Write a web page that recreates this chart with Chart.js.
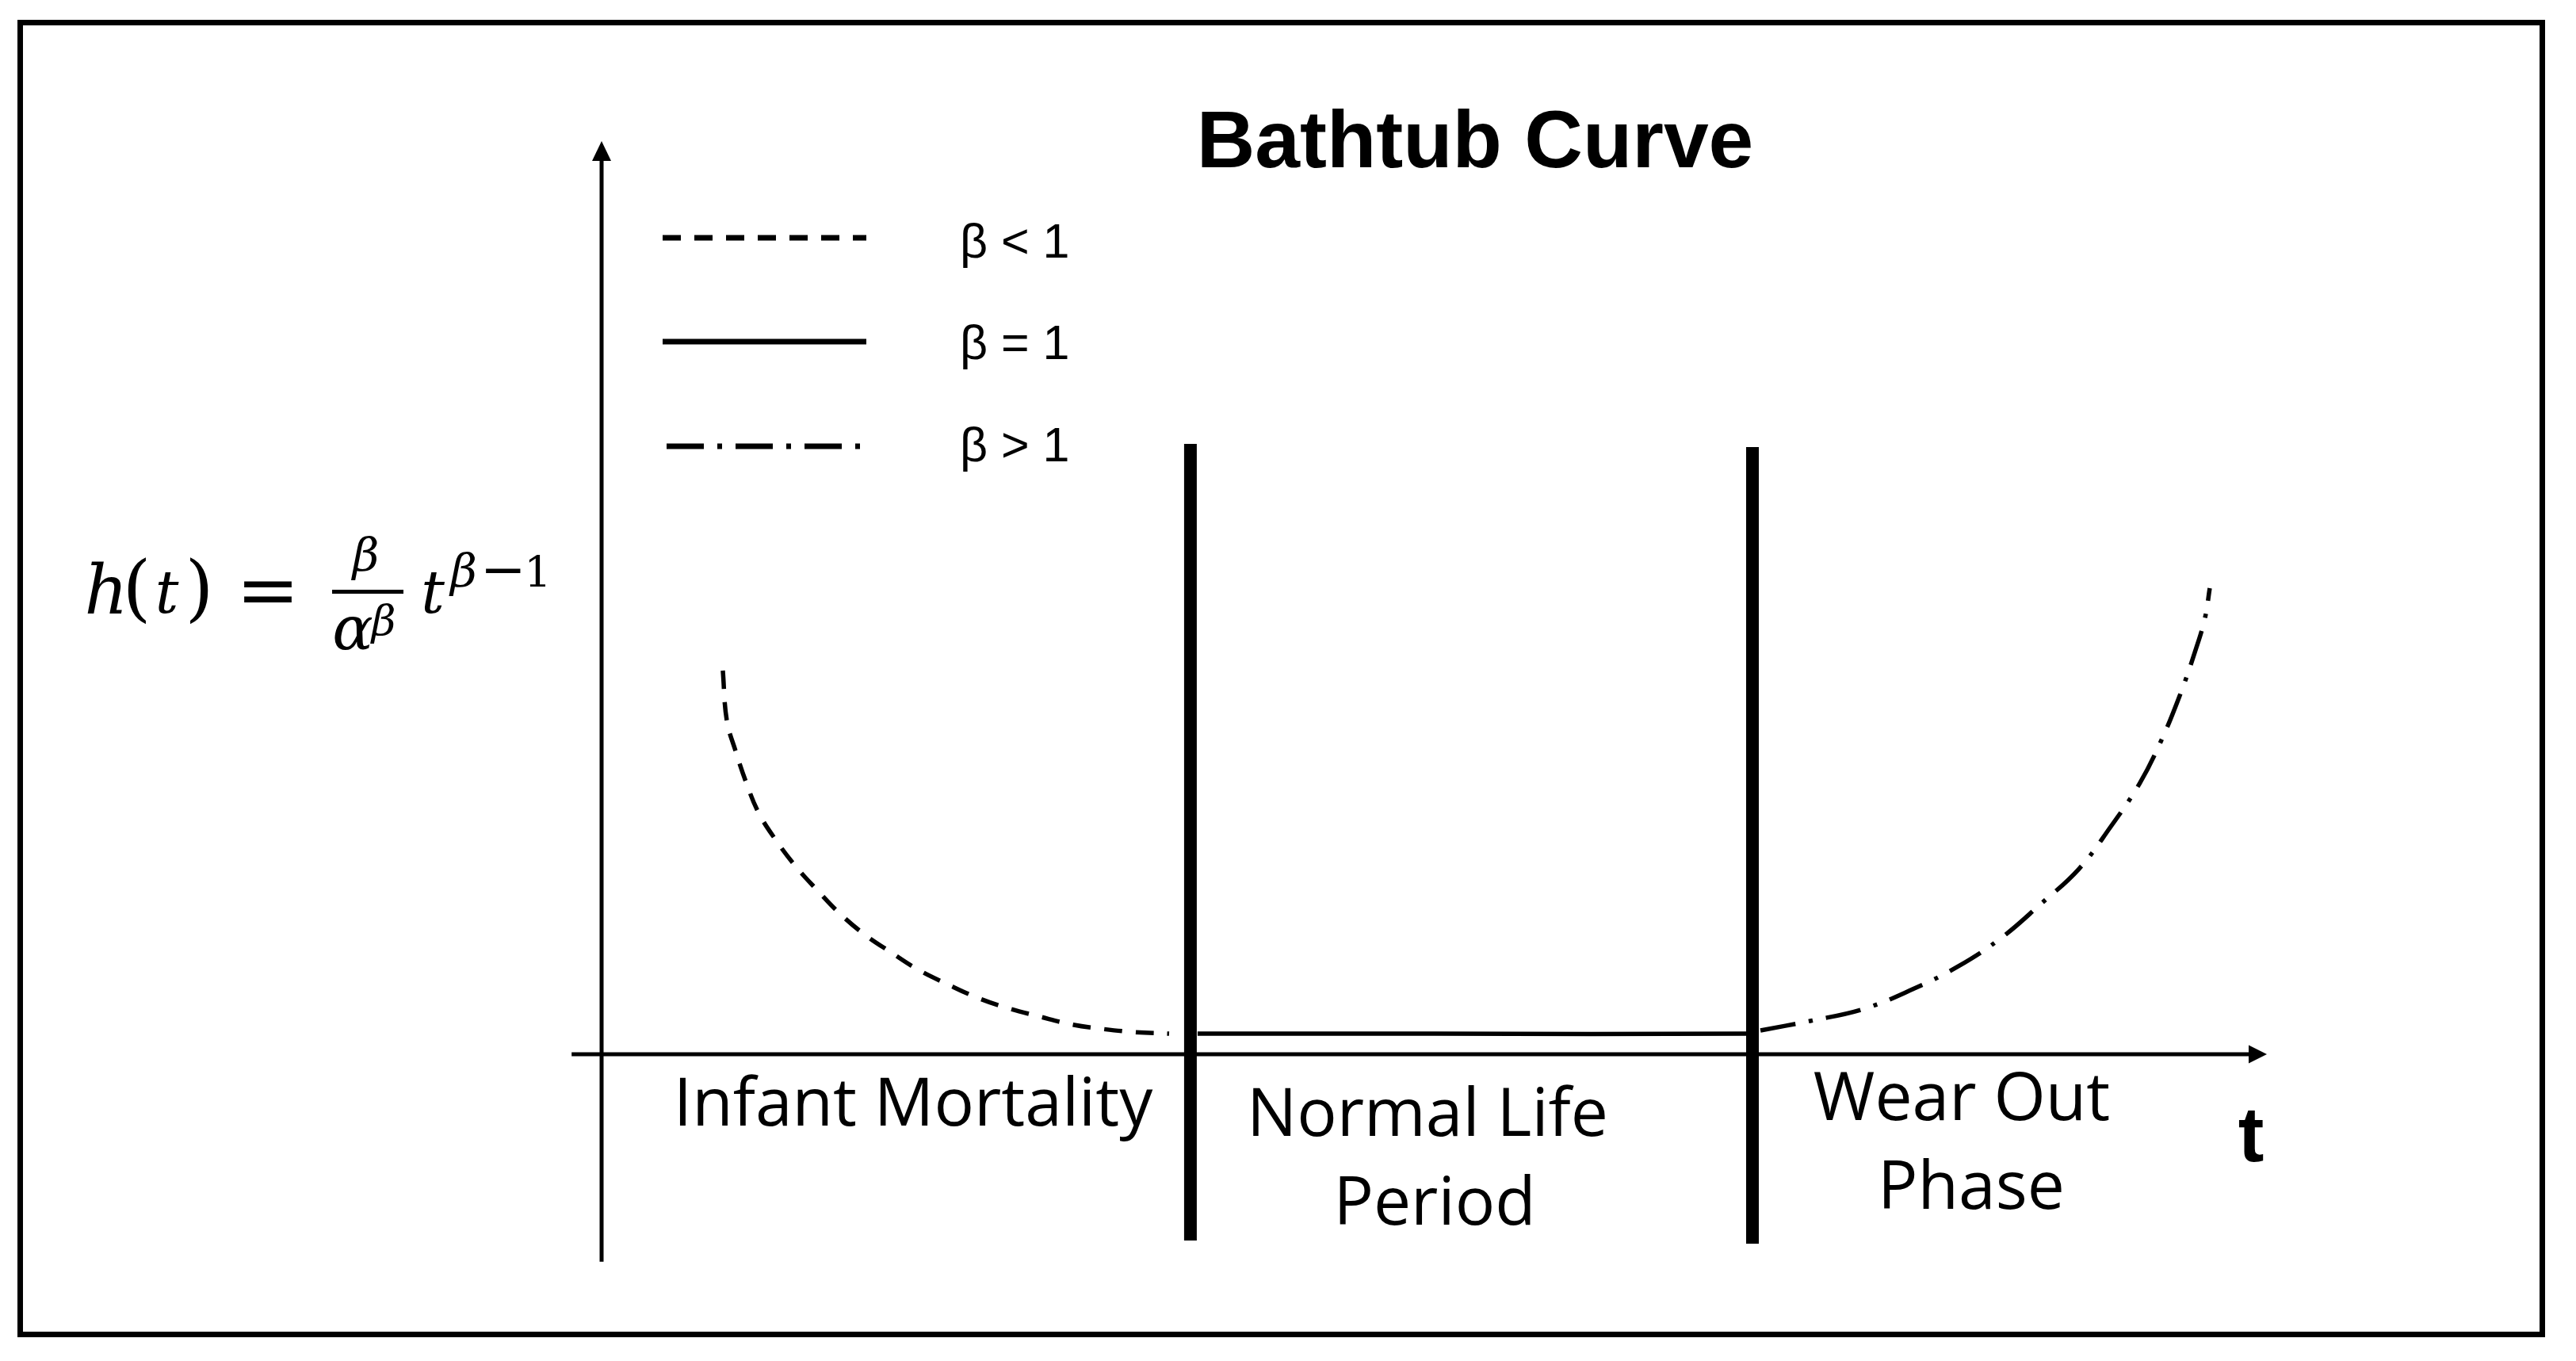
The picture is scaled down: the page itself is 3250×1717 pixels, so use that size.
<!DOCTYPE html>
<html>
<head>
<meta charset="utf-8">
<script src="https://cdn.jsdelivr.net/npm/chart.js@4"></script>
<style>
html,body{margin:0;padding:0;background:#fff;}
#wrap{width:3250px;height:1717px;position:relative;}
</style>
</head>
<body>
<div id="wrap"><canvas id="c"></canvas></div>
<script>
// ---- data (time t in %, hazard h(t) in % of plot height) ----
const infantT = [7.28, 7.52, 8.04, 8.66, 9.42, 10.47, 11.66, 12.95, 14.33, 15.80, 17.42, 18.99, 20.80, 22.61, 24.42, 26.23, 28.13, 30.03, 31.94, 34.08];
const infantH = [42.16, 36.67, 33.36, 29.97, 26.57, 23.52, 20.64, 18.03, 15.42, 13.15, 11.15, 9.32, 7.67, 6.18, 5.05, 4.18, 3.31, 2.79, 2.44, 2.26];
const normalT = [35.79, 50.0, 68.82, 69.16];
const normalH = [2.26, 2.26, 2.26, 2.53];
const wearT = [69.59, 72.58, 75.77, 78.72, 81.48, 84.06, 86.39, 88.72, 90.62, 92.34, 93.62, 94.76, 95.72, 96.29, 96.57];
const wearH = [2.61, 3.66, 4.97, 7.14, 9.67, 12.80, 16.46, 20.38, 25.00, 29.70, 34.32, 39.37, 44.43, 48.00, 51.22];
const boundaryT = [35.36, 69.11];
const boundaryTop = [67.07, 66.72];
const boundaryBottom = [-20.47, -20.82];
const xAxisExtent = [-1.8, 100];
const yAxisExtent = [-22.8, 100.35];
const legendLabels = ['β < 1', 'β = 1', 'β > 1'];
const phaseLabels = [['Infant Mortality'], ['Normal Life', 'Period'], ['Wear Out', 'Phase']];
const titleText = 'Bathtub Curve';
const xAxisLabel = 't';

const toPts = (xs, ys) => xs.map((x, i) => ({x: x, y: ys[i]}));

const DASH = [23, 17];
const DASHDOT = [45, 17, 5, 17];

const datasets = [
  {data: toPts(infantT, infantH), borderDash: DASH, borderWidth: 5.5},
  {data: toPts(normalT, normalH), borderDash: [], borderWidth: 5.5},
  {data: toPts(wearT, wearH), borderDash: DASHDOT, borderWidth: 5.5},
].concat(boundaryT.map((t, i) => ({
  data: [{x: t, y: boundaryTop[i]}, {x: t, y: boundaryBottom[i]}],
  borderDash: [], borderWidth: 16
}))).map(d => Object.assign({
  borderColor: '#000', backgroundColor: '#000', pointRadius: 0, tension: 0.4,
  fill: false, clip: false, borderCapStyle: 'butt'
}, d));

function fitGlyph(ctx, ch, fontFn, x0, x1, y0, y1, mode) {
  ctx.font = fontFn(100);
  let m = ctx.measureText(ch);
  const w = m.width;
  const h = m.actualBoundingBoxAscent + m.actualBoundingBoxDescent;
  const size = mode === 'w' ? 100 * (x1 - x0) / w : 100 * (y1 - y0) / h;
  ctx.font = fontFn(size);
  m = ctx.measureText(ch);
  const cx = (x0 + x1) / 2, cy = (y0 + y1) / 2;
  const y = cy + (m.actualBoundingBoxAscent - m.actualBoundingBoxDescent) / 2;
  ctx.textAlign = 'center';
  ctx.textBaseline = 'alphabetic';
  ctx.fillText(ch, cx, y);
}

const decor = {
  id: 'decor',
  beforeDatasetsDraw(chart) {
    const ctx = chart.ctx;
    const xs = chart.scales.x, ys = chart.scales.y;
    ctx.save();
    ctx.fillStyle = '#000';
    ctx.strokeStyle = '#000';
    // frame
    ctx.lineWidth = 7;
    ctx.setLineDash([]);
    ctx.strokeRect(25.5, 28.5, 3182, 1655);
    // axes
    const x0 = xs.getPixelForValue(0), y0 = ys.getPixelForValue(0);
    const yTop = ys.getPixelForValue(yAxisExtent[1]);
    const yBot = ys.getPixelForValue(yAxisExtent[0]);
    const xL = xs.getPixelForValue(xAxisExtent[0]);
    const xR = xs.getPixelForValue(xAxisExtent[1]);
    ctx.lineWidth = 5;
    ctx.beginPath();
    ctx.moveTo(x0, yBot); ctx.lineTo(x0, yTop + 20);
    ctx.moveTo(xL, y0); ctx.lineTo(xR - 20, y0);
    ctx.stroke();
    ctx.beginPath();
    ctx.moveTo(x0, yTop); ctx.lineTo(x0 - 12, yTop + 25); ctx.lineTo(x0 + 12, yTop + 25); ctx.closePath();
    ctx.fill();
    ctx.beginPath();
    ctx.moveTo(xR, y0); ctx.lineTo(xR - 23, y0 - 11.5); ctx.lineTo(xR - 23, y0 + 11.5); ctx.closePath();
    ctx.fill();
    ctx.restore();
  },
  afterDraw(chart) {
    const ctx = chart.ctx;
    ctx.save();
    ctx.fillStyle = '#000';
    ctx.strokeStyle = '#000';
    // title
    ctx.font = 'bold 102px "Liberation Sans", Arial, sans-serif';
    ctx.textAlign = 'center';
    ctx.textBaseline = 'alphabetic';
    ctx.fillText(titleText, 1861, 211);
    // axis label t
    ctx.font = 'bold 98px "Liberation Sans", Arial, sans-serif';
    ctx.fillText(xAxisLabel, 2840, 1465);
    // legend
    const legY = [300, 431, 563];
    const legX = [[836, 1093], [836, 1093], [841, 1087]];
    const legDash = [DASH, [], [47, 17, 6, 17]];
    const legBase = [325, 453, 582];
    ctx.lineWidth = 7;
    ctx.lineCap = 'butt';
    legendLabels.forEach((lab, i) => {
      ctx.setLineDash(legDash[i]);
      ctx.beginPath();
      ctx.moveTo(legX[i][0], legY[i]);
      ctx.lineTo(legX[i][1], legY[i]);
      ctx.stroke();
      ctx.setLineDash([]);
      ctx.font = '61px "Liberation Sans", Arial, sans-serif';
      ctx.textAlign = 'left';
      ctx.fillText(lab, 1211, legBase[i]);
    });
    // phase labels
    ctx.font = '84px "Open Sans", "Noto Sans", sans-serif';
    ctx.textAlign = 'center';
    const phasePos = [[[1152, 1420]], [[1801, 1433], [1810, 1545]], [[2475, 1413], [2487, 1525]]];
    phaseLabels.forEach((lines, i) => {
      lines.forEach((ln, j) => ctx.fillText(ln, phasePos[i][j][0], phasePos[i][j][1]));
    });
    // formula h(t) = beta / alpha^beta t^(beta-1)
    const it = s => 'italic ' + s + 'px "DejaVu Serif", "Liberation Serif", serif';
    const rm = s => s + 'px "DejaVu Serif", "Liberation Serif", serif';
    fitGlyph(ctx, 'h', it, 111, 157, 708, 773, 'h');
    fitGlyph(ctx, '(', rm, 161, 184, 703, 788, 'h');
    fitGlyph(ctx, 't', it, 190, 231, 722, 773, 'h');
    fitGlyph(ctx, ')', rm, 240, 263, 703, 788, 'h');
    fitGlyph(ctx, '=', rm, 298, 378, 733, 759, 'w');
    fitGlyph(ctx, 'β', it, 443, 480, 675, 732, 'h');
    ctx.fillRect(419, 744, 90, 5);
    fitGlyph(ctx, 'α', it, 423, 467, 778, 820, 'h');
    fitGlyph(ctx, 'β', it, 468, 500, 760, 812, 'h');
    fitGlyph(ctx, 't', it, 530, 562, 722, 773, 'h');
    fitGlyph(ctx, 'β', it, 568, 602, 695, 752, 'h');
    fitGlyph(ctx, '−', rm, 606, 664, 717, 723, 'w');
    fitGlyph(ctx, '1', rm, 665, 692, 700, 740, 'h');
    ctx.restore();
  }
};

new Chart(document.getElementById('c'), {
  type: 'line',
  data: {datasets: datasets},
  options: {
    responsive: true,
    maintainAspectRatio: false,
    animation: false,
    events: [],
    layout: {padding: {left: 759, right: 390, top: 182, bottom: 387}},
    plugins: {legend: {display: false}, title: {display: false}, tooltip: {enabled: false}},
    scales: {
      x: {type: 'linear', min: 0, max: 100, display: false},
      y: {type: 'linear', min: 0, max: 100, display: false}
    }
  },
  plugins: [decor]
});
</script>
</body>
</html>
